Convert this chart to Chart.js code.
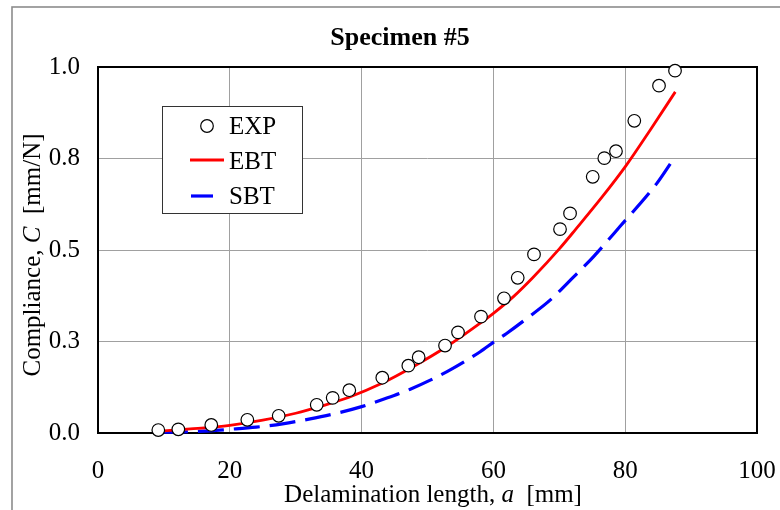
<!DOCTYPE html>
<html>
<head>
<meta charset="utf-8">
<script src="https://cdn.jsdelivr.net/npm/chart.js@4.4.1/dist/chart.umd.min.js"></script>
<style>
  html, body { margin: 0; padding: 0; background: #ffffff; }
  canvas { display: block; }
</style>
</head>
<body>
<canvas id="c" width="780" height="510"></canvas>
<script>
// ---- data ----
const chartTitle = 'Specimen #5';
const xTickLabels = ['0', '20', '40', '60', '80', '100'];
const yTickLabels = ['0.0', '0.3', '0.5', '0.8', '1.0'];

const expA = [9.15, 12.19, 17.19, 22.66, 27.42, 33.19, 35.61, 38.13, 43.14, 47.09, 48.66, 52.66, 54.63, 58.12, 61.61, 63.69, 66.16, 70.11, 71.63, 75.07, 76.83, 78.6, 81.38, 85.13, 87.56];
const expC = [0.008, 0.010, 0.022, 0.036, 0.047, 0.077, 0.096, 0.117, 0.151, 0.184, 0.207, 0.239, 0.275, 0.318, 0.368, 0.424, 0.488, 0.557, 0.600, 0.700, 0.751, 0.770, 0.853, 0.949, 0.990];

const ebtA = [9.5, 14, 20, 25, 30, 34, 38, 43, 48, 53, 58, 60, 63, 66, 70, 72.6, 76.5, 80.1, 83.8, 87.6];
const ebtC = [0.005, 0.011, 0.021, 0.035, 0.054, 0.074, 0.097, 0.135, 0.183, 0.237, 0.300, 0.327, 0.372, 0.425, 0.503, 0.559, 0.645, 0.730, 0.828, 0.932];

const sbtA = [9.7, 13, 17, 20, 24, 28, 32, 36.7, 40, 43.3, 47.3, 52.9, 58, 60.1, 62, 65, 68.6, 72.1, 75.2, 79.2, 84.8, 87.05];
const sbtC = [0.002, 0.003, 0.006, 0.010, 0.016, 0.025, 0.038, 0.056, 0.072, 0.092, 0.119, 0.167, 0.222, 0.249, 0.272, 0.312, 0.363, 0.425, 0.482, 0.564, 0.682, 0.741];

const seriesNames = ['EXP', 'EBT', 'SBT'];

function pts(xs, ys) { return xs.map((x, i) => ({ x: x, y: ys[i] })); }

const SERIF = '"Liberation Serif", "Times New Roman", serif';
Chart.defaults.font.family = SERIF;
Chart.defaults.color = '#000';

const PLOT = { left: 98, top: 67, right: 757, bottom: 433 };

function drawMixed(ctx, parts, x, y, align) {
  let total = 0;
  parts.forEach(p => { ctx.font = p.font; p.w = ctx.measureText(p.t).width; total += p.w; });
  let cx = align === 'center' ? x - total / 2 : x;
  ctx.textAlign = 'left';
  parts.forEach(p => { ctx.font = p.font; ctx.fillText(p.t, cx, y); cx += p.w; });
}

const decor = {
  id: 'decor',
  beforeDraw(chart) {
    const ctx = chart.ctx;
    ctx.save();
    ctx.fillStyle = '#fff';
    ctx.fillRect(0, 0, chart.width, chart.height);
    ctx.strokeStyle = '#8c8c8c';
    ctx.lineWidth = 1.6;
    ctx.strokeRect(12, 7, 900, 700);
    ctx.restore();
  },
  beforeDatasetsDraw(chart) {
    const ctx = chart.ctx;
    const a = chart.chartArea;
    ctx.save();
    ctx.strokeStyle = '#000';
    ctx.lineWidth = 2;
    ctx.strokeRect(a.left, a.top, a.right - a.left, a.bottom - a.top);
    ctx.restore();
  },
  afterDraw(chart) {
    const ctx = chart.ctx;
    ctx.save();
    ctx.fillStyle = '#000';
    ctx.textBaseline = 'alphabetic';
    ctx.font = 'bold 26px ' + SERIF;
    ctx.textAlign = 'center';
    ctx.fillText(chartTitle, 400, 45);
    drawMixed(ctx, [
      { t: 'Delamination length, ', font: '25px ' + SERIF },
      { t: 'a', font: 'italic 25px ' + SERIF },
      { t: '  [mm]', font: '25px ' + SERIF }
    ], 433, 502, 'center');
    ctx.save();
    ctx.translate(40, 255);
    ctx.rotate(-Math.PI / 2);
    drawMixed(ctx, [
      { t: 'Compliance, ', font: '25px ' + SERIF },
      { t: 'C', font: 'italic 25px ' + SERIF },
      { t: '  [mm/N]', font: '25px ' + SERIF }
    ], 0, 0, 'center');
    ctx.restore();
    // legend
    ctx.fillStyle = '#fff';
    ctx.fillRect(162.5, 106.5, 140, 107);
    ctx.strokeStyle = '#333';
    ctx.lineWidth = 1;
    ctx.strokeRect(162.5, 106.5, 140, 107);
    ctx.beginPath();
    ctx.arc(207, 126, 6.3, 0, Math.PI * 2);
    ctx.fillStyle = '#fff';
    ctx.fill();
    ctx.strokeStyle = '#000';
    ctx.lineWidth = 1.2;
    ctx.stroke();
    ctx.beginPath();
    ctx.moveTo(190, 160); ctx.lineTo(224, 160);
    ctx.strokeStyle = '#ff0000'; ctx.lineWidth = 3; ctx.stroke();
    ctx.beginPath();
    ctx.moveTo(191, 196); ctx.lineTo(213, 196);
    ctx.strokeStyle = '#0000ff'; ctx.lineWidth = 3.2; ctx.stroke();
    ctx.fillStyle = '#000';
    ctx.font = '25px ' + SERIF;
    ctx.textAlign = 'left';
    ctx.textBaseline = 'middle';
    ctx.fillText(seriesNames[0], 229, 127);
    ctx.fillText(seriesNames[1], 229, 162);
    ctx.fillText(seriesNames[2], 229, 197);
    ctx.restore();
  }
};

new Chart(document.getElementById('c'), {
  type: 'scatter',
  data: {
    datasets: [
      {
        label: seriesNames[0],
        data: pts(expA, expC),
        showLine: false,
        pointRadius: 6.3,
        pointBorderWidth: 1.2,
        borderColor: '#000',
        backgroundColor: '#fff',
        pointHoverRadius: 6.3,
        clip: false
      },
      {
        label: seriesNames[1],
        data: pts(ebtA, ebtC),
        showLine: true,
        pointRadius: 0,
        borderColor: '#ff0000',
        backgroundColor: '#ff0000',
        borderWidth: 2.8,
        cubicInterpolationMode: 'monotone',
        clip: false
      },
      {
        label: seriesNames[2],
        data: pts(sbtA, sbtC),
        showLine: true,
        pointRadius: 0,
        borderColor: '#0000ff',
        backgroundColor: '#0000ff',
        borderWidth: 3.2,
        borderDash: [26, 10],
        cubicInterpolationMode: 'monotone',
        clip: false
      }
    ]
  },
  options: {
    responsive: false,
    animation: false,
    devicePixelRatio: 1,
    events: [],
    layout: { padding: { left: 0, right: 780 - PLOT.right, top: PLOT.top, bottom: 0 } },
    plugins: { legend: { display: false }, title: { display: false }, tooltip: { enabled: false } },
    scales: {
      x: {
        type: 'linear',
        min: 0, max: 100,
        afterFit(s) { s.height = 510 - PLOT.bottom; s.paddingLeft = 0; s.paddingRight = 0; },
        afterBuildTicks(s) { s.ticks = xTickLabels.map(v => ({ value: Number(v) })); },
        ticks: {
          font: { size: 25 },
          color: '#000',
          padding: 23,
          maxRotation: 0,
          callback: (v, i) => xTickLabels[i]
        },
        grid: { color: '#a0a0a0', lineWidth: 1, drawTicks: false },
        border: { display: false }
      },
      y: {
        type: 'linear',
        min: 0, max: 1,
        afterFit(s) { s.width = PLOT.left; s.paddingTop = 0; s.paddingBottom = 0; },
        afterBuildTicks(s) { s.ticks = yTickLabels.map((v, i) => ({ value: i * 0.25 })); },
        ticks: {
          font: { size: 25 },
          color: '#000',
          padding: 18,
          callback: (v, i) => yTickLabels[i]
        },
        grid: { color: '#a0a0a0', lineWidth: 1, drawTicks: false },
        border: { display: false }
      }
    }
  },
  plugins: [decor]
});
</script>
</body>
</html>
